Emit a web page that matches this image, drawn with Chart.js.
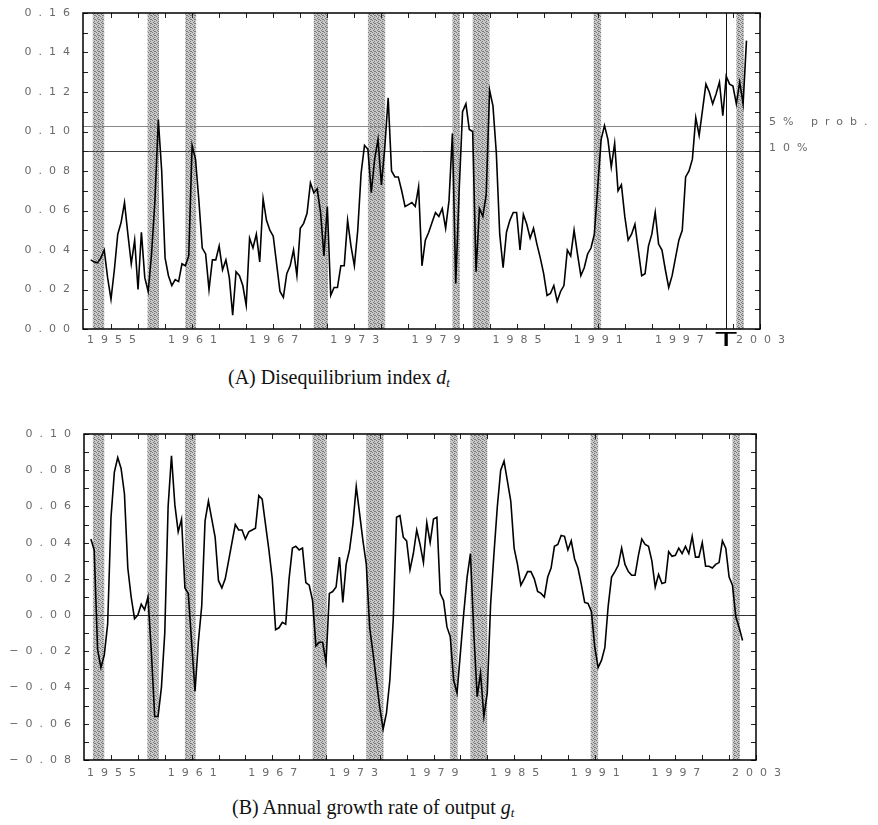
<!DOCTYPE html>
<html>
<head>
<meta charset="utf-8">
<script src="https://cdn.jsdelivr.net/npm/chart.js@4"></script>
<style>
  body { margin: 0; background: #fff; width: 878px; height: 825px; position: relative; overflow: hidden; }
  canvas { position: absolute; left: 0; }
  #c1 { top: 0; }
  #c2 { top: 400px; }
  .cap { position: absolute; font-family: "Liberation Serif", serif; font-size: 20px; line-height: 24px; color: #111; white-space: nowrap; }
  .cap sub { font-size: 13px; vertical-align: -3px; }
</style>
</head>
<body>
<canvas id="c1" width="878" height="365"></canvas>
<canvas id="c2" width="878" height="395"></canvas>
<div class="cap" style="left:228px; top:365px;">(A) Disequilibrium index <i>d<sub>t</sub></i></div>
<div class="cap" style="left:232px; top:795px;">(B) Annual growth rate of output <i>g<sub>t</sub></i></div>
<script>
// quarterly data, first quarter at START_YEAR
const START_YEAR = 1953.5;

const disequilibrium = [
  0.035, 0.034, 0.0335, 0.036, 0.040, 0.026, 0.015, 0.030, 0.048, 0.054,
  0.064, 0.048, 0.033, 0.045, 0.020, 0.049, 0.026, 0.019, 0.038, 0.065,
  0.106, 0.080, 0.036, 0.027, 0.022, 0.025, 0.024, 0.033, 0.032, 0.037,
  0.093, 0.086, 0.065, 0.041, 0.038, 0.020, 0.035, 0.035, 0.042, 0.030,
  0.035, 0.026, 0.007, 0.029, 0.027, 0.022, 0.012, 0.046, 0.041, 0.048,
  0.034, 0.066, 0.055, 0.050, 0.047, 0.033, 0.019, 0.016, 0.028, 0.032,
  0.040, 0.027, 0.051, 0.0535, 0.0586, 0.074, 0.069, 0.071, 0.059, 0.037,
  0.062, 0.017, 0.021, 0.021, 0.032, 0.032, 0.055, 0.042, 0.032, 0.050,
  0.079, 0.093, 0.091, 0.069, 0.086, 0.096, 0.073, 0.092, 0.117, 0.080,
  0.077, 0.077, 0.070, 0.062, 0.063, 0.064, 0.062, 0.072, 0.032, 0.045,
  0.049, 0.054, 0.059, 0.057, 0.061, 0.051, 0.065, 0.099, 0.023, 0.070,
  0.110, 0.114, 0.101, 0.100, 0.029, 0.061, 0.057, 0.068, 0.121, 0.113,
  0.089, 0.048, 0.031, 0.049, 0.055, 0.059, 0.059, 0.040, 0.058, 0.053,
  0.046, 0.051, 0.043, 0.036, 0.028, 0.017, 0.018, 0.022, 0.014, 0.019,
  0.022, 0.040, 0.037, 0.050, 0.038, 0.027, 0.031, 0.038, 0.041, 0.048,
  0.072, 0.096, 0.103, 0.096, 0.082, 0.094, 0.070, 0.073, 0.057, 0.045,
  0.048, 0.053, 0.040, 0.027, 0.028, 0.042, 0.048, 0.059, 0.043, 0.040,
  0.030, 0.021, 0.027, 0.036, 0.045, 0.050, 0.077, 0.080, 0.086, 0.107,
  0.098, 0.111, 0.124, 0.120, 0.114, 0.119, 0.125, 0.108, 0.128, 0.124,
  0.123, 0.114, 0.125, 0.114, 0.146
];

const growth = [
  0.042, 0.036, -0.019, -0.029, -0.022, -0.005, 0.054, 0.079, 0.087, 0.081,
  0.067, 0.026, 0.010, -0.002, 0.000, 0.006, 0.003, 0.010, -0.020, -0.056,
  -0.056, -0.040, -0.010, 0.060, 0.088, 0.061, 0.046, 0.053, 0.015, 0.012,
  -0.015, -0.042, -0.015, 0.005, 0.052, 0.063, 0.053, 0.043, 0.019, 0.015,
  0.020, 0.030, 0.040, 0.050, 0.047, 0.047, 0.042, 0.046, 0.047, 0.048,
  0.066, 0.064, 0.050, 0.036, 0.020, -0.008, -0.007, -0.004, -0.005, 0.020,
  0.037, 0.038, 0.036, 0.037, 0.018, 0.0165, 0.008, -0.017, -0.015, -0.015,
  -0.026, 0.012, 0.013, 0.0155, 0.032, 0.007, 0.028, 0.036, 0.050, 0.071,
  0.056, 0.041, 0.028, -0.007, -0.021, -0.036, -0.051, -0.063, -0.054, -0.036,
  -0.003, 0.054, 0.055, 0.043, 0.041, 0.025, 0.034, 0.047, 0.039, 0.029,
  0.051, 0.040, 0.053, 0.054, 0.012, 0.008, -0.0065, -0.012, -0.036, -0.043,
  -0.021, 0.001, 0.021, 0.034, -0.010, -0.045, -0.032, -0.056, -0.043, 0.006,
  0.034, 0.060, 0.080, 0.085, 0.074, 0.063, 0.037, 0.028, 0.0165, 0.020,
  0.024, 0.024, 0.020, 0.013, 0.012, 0.010, 0.021, 0.026, 0.038, 0.039,
  0.044, 0.0435, 0.036, 0.041, 0.031, 0.026, 0.017, 0.007, 0.0064, 0.002,
  -0.0175, -0.029, -0.025, -0.018, 0.005, 0.021, 0.024, 0.0275, 0.037, 0.028,
  0.024, 0.022, 0.022, 0.033, 0.042, 0.039, 0.038, 0.030, 0.0155, 0.0225,
  0.0174, 0.018, 0.035, 0.0325, 0.033, 0.037, 0.034, 0.038, 0.034, 0.0435,
  0.032, 0.032, 0.040, 0.027, 0.027, 0.026, 0.028, 0.029, 0.041, 0.037,
  0.021, 0.0165, -0.001, -0.007, -0.014
];

// shaded recession periods (start, end)
const recessions = [
  [1953.65, 1954.5], [1957.7, 1958.55], [1960.5, 1961.3], [1970.0, 1971.05],
  [1974.0, 1975.28], [1980.25, 1980.8], [1981.75, 1983.0], [1990.7, 1991.25],
  [2001.25, 2001.8]
];

const xTickYears = [1955, 1957, 1959, 1961, 1963, 1965, 1967, 1969, 1971, 1973, 1975, 1977,
  1979, 1981, 1983, 1985, 1987, 1989, 1991, 1993, 1995, 1997, 1999, 2001, 2003];
const xLabelYears = [1955, 1961, 1967, 1973, 1979, 1985, 1991, 1997, 2003];

const prob5 = 0.103;
const prob10 = 0.090;
const sampleEnd = 2000.5;

const LABEL_GRAY = "#6a6a6a";
const SPACING = "7px";

// dotted grey texture for the shaded bands
const pc = document.createElement("canvas");
pc.width = 4; pc.height = 4;
const pctx = pc.getContext("2d");
pctx.fillStyle = "#c8c8c8";
pctx.fillRect(0, 0, 4, 4);
pctx.fillStyle = "#7a7a7a";
[[0, 0], [2, 1], [1, 2], [3, 3], [2, 3]].forEach(p => pctx.fillRect(p[0], p[1], 1, 1));

function fmt(v) {
  if (Math.abs(v) < 1e-9) return "0.00";
  return v.toFixed(2).replace("-", "\u2212");
}

function decor(opts) {
  return {
    id: "decor",
    beforeDraw(chart) {
      chart.ctx.letterSpacing = SPACING;
    },
    beforeDatasetsDraw(chart) {
      const { ctx, chartArea: a, scales: { x, y } } = chart;
      ctx.save();
      ctx.fillStyle = ctx.createPattern(pc, "repeat");
      recessions.forEach(r => {
        const x0 = x.getPixelForValue(r[0]);
        const x1 = x.getPixelForValue(r[1]);
        ctx.fillRect(x0, a.top, x1 - x0, a.bottom - a.top);
      });
      ctx.lineWidth = 1;
      opts.hlines.forEach(h => {
        const py = Math.round(y.getPixelForValue(h.value)) + 0.5;
        ctx.strokeStyle = h.color;
        ctx.beginPath();
        ctx.moveTo(a.left, py);
        ctx.lineTo(a.right, py);
        ctx.stroke();
      });
      if (opts.vline) {
        const px = Math.round(x.getPixelForValue(opts.vline)) + 0.5;
        ctx.strokeStyle = "#111";
        ctx.beginPath();
        ctx.moveTo(px, a.top);
        ctx.lineTo(px, a.bottom);
        ctx.stroke();
      }
      ctx.restore();
    },
    afterDraw(chart) {
      const { ctx, chartArea: a, scales: { x, y } } = chart;
      ctx.save();
      ctx.strokeStyle = "#222";
      ctx.lineWidth = 1;
      ctx.beginPath();
      y.ticks.forEach(t => {
        const py = Math.round(y.getPixelForValue(t.value)) + 0.5;
        ctx.moveTo(a.left, py); ctx.lineTo(a.left + 5, py);
        ctx.moveTo(a.right, py); ctx.lineTo(a.right - 5, py);
      });
      x.ticks.forEach(t => {
        const px = Math.round(x.getPixelForValue(t.value)) + 0.5;
        ctx.moveTo(px, a.bottom); ctx.lineTo(px, a.bottom - 5);
        ctx.moveTo(px, a.top); ctx.lineTo(px, a.top + 5);
      });
      ctx.stroke();
      ctx.strokeStyle = "#000";
      ctx.lineWidth = 1.5;
      ctx.strokeRect(a.left, a.top, a.right - a.left, a.bottom - a.top);

      ctx.letterSpacing = SPACING;
      ctx.fillStyle = LABEL_GRAY;
      ctx.font = "11px 'DejaVu Sans'";
      ctx.textBaseline = "middle";
      ctx.textAlign = "left";
      opts.hlines.forEach(h => {
        if (h.label) ctx.fillText(h.label, a.right + 9, y.getPixelForValue(h.value) - 3);
      });
      if (opts.vline) {
        ctx.letterSpacing = "0px";
        ctx.fillStyle = "#000";
        ctx.font = "20px 'DejaVu Sans'";
        ctx.textAlign = "center";
        ctx.textBaseline = "top";
        ctx.translate(x.getPixelForValue(opts.vline), a.bottom + 2);
        ctx.scale(1.7, 1);
        ctx.fillText("T", 0, 0);
      }
      ctx.restore();
    }
  };
}

function makeChart(id, values, cfg) {
  const points = values.map((v, i) => ({ x: START_YEAR + i / 4, y: v }));
  const tickFont = { family: "'DejaVu Sans'", size: 11 };
  return new Chart(document.getElementById(id), {
    type: "line",
    data: {
      datasets: [{
        data: points,
        borderColor: "#000",
        borderWidth: 1.6,
        pointRadius: 0,
        tension: 0,
        fill: false
      }]
    },
    options: {
      responsive: false,
      animation: false,
      events: [],
      layout: { padding: cfg.padding },
      plugins: { legend: { display: false }, tooltip: { enabled: false } },
      scales: {
        x: {
          type: "linear",
          min: cfg.xMin,
          max: 2003,
          afterBuildTicks: ax => { ax.ticks = xTickYears.map(v => ({ value: v })); },
          afterFit: ax => { ax.height = cfg.xHeight; },
          grid: { display: false, drawTicks: false },
          border: { display: false },
          ticks: {
            autoSkip: false, maxRotation: 0, padding: cfg.xPad, labelOffset: 4,
            color: LABEL_GRAY, font: tickFont,
            callback: v => xLabelYears.includes(v) ? String(v) : ""
          }
        },
        y: {
          min: cfg.yMin,
          max: cfg.yMax,
          afterFit: ax => { ax.width = cfg.yWidth; },
          grid: { display: false, drawTicks: false },
          border: { display: false },
          ticks: {
            stepSize: 0.01, autoSkip: false, padding: 6,
            color: LABEL_GRAY, font: tickFont,
            callback: v => (Math.round(v * 100) % 2 === 0 ? fmt(v) : "")
          }
        }
      }
    },
    plugins: [decor(cfg)]
  });
}

makeChart("c1", disequilibrium, {
  xMin: 1952.93, yMin: 0, yMax: 0.16,
  padding: { left: 0, right: 118, top: 13, bottom: 0 },
  yWidth: 83, xHeight: 36, xPad: 5,
  hlines: [
    { value: prob5, color: "#8a8a8a", label: "5% prob." },
    { value: prob10, color: "#444", label: "10%" }
  ],
  vline: sampleEnd
});

makeChart("c2", growth, {
  xMin: 1952.99, yMin: -0.08, yMax: 0.10,
  padding: { left: 0, right: 122, top: 34, bottom: 0 },
  yWidth: 84, xHeight: 35, xPad: 7,
  hlines: [{ value: 0, color: "#333" }]
});
</script>
</body>
</html>
